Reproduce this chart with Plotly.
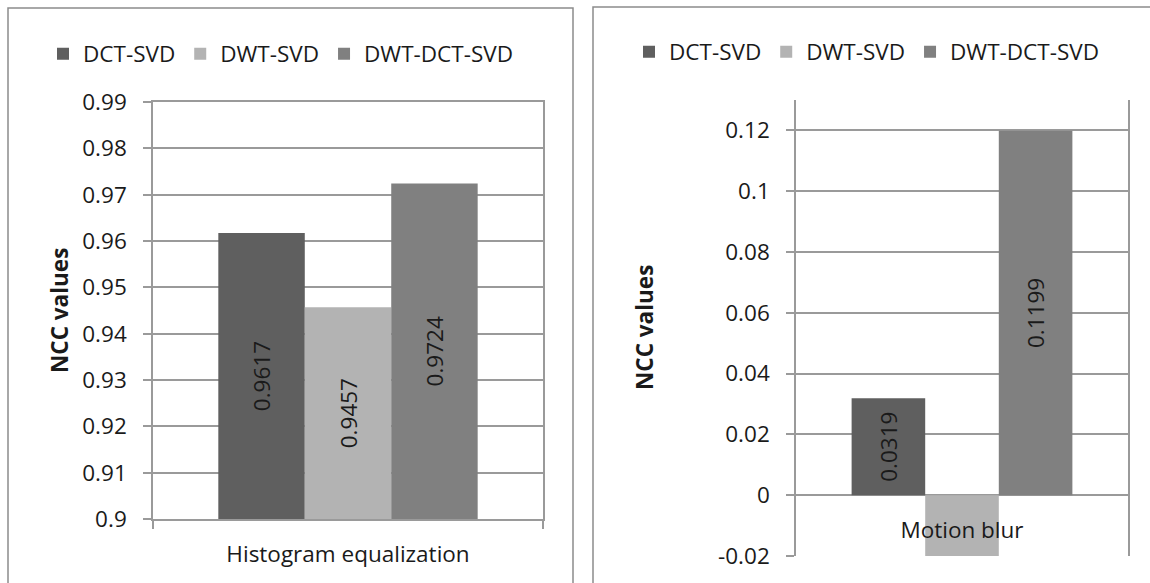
import plotly.graph_objects as go

W, H = 1150, 583

# ---- data ----
series = ["DCT-SVD", "DWT-SVD", "DWT-DCT-SVD"]
series_colors = ["#5f5f5f", "#b3b3b3", "#808080"]

left_category = ["Histogram equalization"]
left_values = [0.9617, 0.9457, 0.9724]
left_tickvals = [0.90, 0.91, 0.92, 0.93, 0.94, 0.95, 0.96, 0.97, 0.98, 0.99]
left_ticktext = ["0.9", "0.91", "0.92", "0.93", "0.94", "0.95", "0.96", "0.97", "0.98", "0.99"]

right_category = ["Motion blur"]
right_values = [0.0319, -0.0208, 0.1199]
right_labelled = [True, False, True]
right_tickvals = [-0.02, 0.0, 0.02, 0.04, 0.06, 0.08, 0.10, 0.12]
right_ticktext = ["-0.02", "0", "0.02", "0.04", "0.06", "0.08", "0.1", "0.12"]

y_title = "NCC values"

# ---- styling ----
FONT = "Open Sans"
FS = 22.5
TXT = "#1a1a1a"
GRID = "#9a9a9a"
FRAME = "#8c8c8c"


def px_x(x):
    return x / W


def px_y(y):
    return 1 - y / H


left_range = [0.90, 0.99]
right_range = [-0.02, 0.13]
left_ydom = [px_y(519), px_y(102)]
right_ydom = [px_y(556), px_y(100)]
left_xdom = [px_x(153), px_x(543)]
right_xdom = [px_x(796), px_x(1128)]

# paper position of the value 0 on the right chart, where its category axis crosses
zero_pos = right_ydom[0] + (0 - right_range[0]) / (right_range[1] - right_range[0]) * (
    right_ydom[1] - right_ydom[0]
)

fig = go.Figure()

# left chart: bars rise from the bottom of the value axis
left_base = left_range[0]
for name, color, v in zip(series, series_colors, left_values):
    fig.add_trace(
        go.Bar(
            x=left_category,
            y=[v - left_base],
            base=[left_base],
            name=name,
            marker=dict(color=color, line=dict(width=0)),
            text=[f"{v:.4f}"],
            textposition="inside",
            insidetextanchor="middle",
            textangle=-90,
            constraintext="none",
            insidetextfont=dict(family=FONT, size=FS, color=TXT),
            xaxis="x",
            yaxis="y",
            legend="legend",
            hoverinfo="skip",
        )
    )

for name, color, v, lab in zip(series, series_colors, right_values, right_labelled):
    fig.add_trace(
        go.Bar(
            x=right_category,
            y=[v],
            name=name,
            marker=dict(color=color, line=dict(width=0)),
            text=[f"{v:.4f}" if lab else ""],
            textposition="inside",
            insidetextanchor="middle",
            textangle=-90,
            constraintext="none",
            insidetextfont=dict(family=FONT, size=FS, color=TXT),
            xaxis="x2",
            yaxis="y2",
            legend="legend2",
            hoverinfo="skip",
        )
    )

common_y = dict(
    automargin=False,
    showgrid=True,
    gridcolor=GRID,
    gridwidth=1.5,
    showline=True,
    mirror=True,
    linecolor=GRID,
    linewidth=1.5,
    ticks="outside",
    ticklen=8,
    tickwidth=1.5,
    tickcolor=GRID,
    zeroline=False,
    tickmode="array",
    ticklabelstandoff=12,
    tickfont=dict(family=FONT, size=FS, color=TXT),
)

fig.update_layout(
    template="none",
    width=W,
    height=H,
    margin=dict(l=0, r=0, t=0, b=0, pad=0),
    paper_bgcolor="white",
    plot_bgcolor="white",
    barmode="group",
    bargap=0.335,
    bargroupgap=0,
    font=dict(family=FONT, size=FS, color=TXT),
    xaxis=dict(
        automargin=False,
        domain=left_xdom,
        anchor="y",
        type="category",
        range=[-0.5, 0.5],
        showgrid=False,
        showline=True,
        mirror=True,
        linecolor=GRID,
        linewidth=1.5,
        ticks="outside",
        tickson="boundaries",
        ticklen=8,
        tickwidth=1.5,
        tickcolor=GRID,
        ticklabelstandoff=14,
        tickfont=dict(family=FONT, size=FS, color=TXT),
    ),
    yaxis=dict(
        domain=left_ydom,
        anchor="x",
        range=left_range,
        tickvals=left_tickvals,
        ticktext=left_ticktext,
        **common_y,
    ),
    xaxis2=dict(
        automargin=False,
        domain=right_xdom,
        anchor="free",
        position=zero_pos,
        type="category",
        range=[-0.5, 0.5],
        showgrid=False,
        showline=False,
        ticks="",
        ticklabelstandoff=19,
        tickfont=dict(family=FONT, size=FS, color=TXT),
    ),
    yaxis2=dict(
        domain=right_ydom,
        anchor="x2",
        range=right_range,
        tickvals=right_tickvals,
        ticktext=right_ticktext,
        **common_y,
    ),
    legend=dict(
        orientation="h",
        x=px_x(43),
        xanchor="left",
        y=px_y(54),
        yanchor="middle",
        font=dict(family=FONT, size=FS, color=TXT),
        bgcolor="rgba(0,0,0,0)",
        itemclick=False,
        itemdoubleclick=False,
    ),
    legend2=dict(
        orientation="h",
        x=px_x(629),
        xanchor="left",
        y=px_y(52),
        yanchor="middle",
        font=dict(family=FONT, size=FS, color=TXT),
        bgcolor="rgba(0,0,0,0)",
        itemclick=False,
        itemdoubleclick=False,
    ),
)

# axis titles
fig.add_annotation(
    x=px_x(59), y=px_y(311), xref="paper", yref="paper",
    xanchor="center", yanchor="middle",
    text=f"<b>{y_title}</b>", textangle=-90, showarrow=False,
    font=dict(family=FONT, size=FS, color=TXT),
)
fig.add_annotation(
    x=px_x(644), y=px_y(328), xref="paper", yref="paper",
    xanchor="center", yanchor="middle",
    text=f"<b>{y_title}</b>", textangle=-90, showarrow=False,
    font=dict(family=FONT, size=FS, color=TXT),
)

# chart-area frames
fig.add_shape(
    type="rect", xref="paper", yref="paper",
    x0=px_x(8), x1=px_x(573), y0=-0.1, y1=px_y(8),
    line=dict(color=FRAME, width=1.5), fillcolor="rgba(0,0,0,0)", layer="below",
)
fig.add_shape(
    type="rect", xref="paper", yref="paper",
    x0=px_x(593), x1=1.1, y0=-0.1, y1=px_y(7),
    line=dict(color=FRAME, width=1.5), fillcolor="rgba(0,0,0,0)", layer="below",
)

fig.write_html("out.html")
